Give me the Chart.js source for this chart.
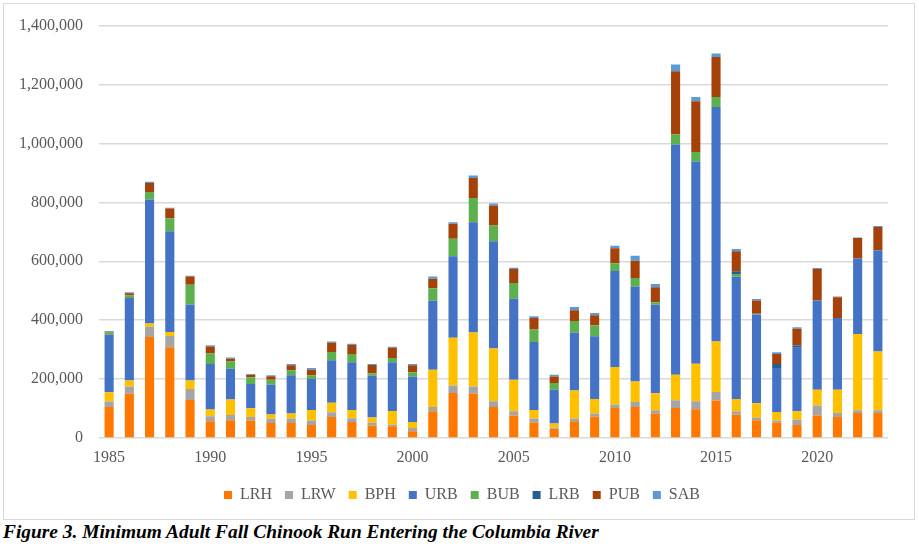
<!DOCTYPE html>
<html>
<head>
<meta charset="utf-8">
<script src="https://cdn.jsdelivr.net/npm/chart.js@4.4.1/dist/chart.umd.min.js"></script>
<style>
  html, body { margin: 0; padding: 0; background: #fff; width: 919px; height: 548px; overflow: hidden; }
  #frame { position: absolute; left: 3px; top: 3px; width: 910px; height: 515px; border: 1.5px solid #d9d9d9; }
  #wrap { position: absolute; left: 0; top: 0; width: 919px; height: 520px; }
  #caption { position: absolute; left: 3px; top: 521px; font-family: "Liberation Serif", serif; font-weight: bold; font-style: italic; font-size: 19.4px; color: #000; white-space: nowrap; }
</style>
</head>
<body>
<div id="frame"></div>
<div id="wrap"><canvas id="c" width="919" height="520"></canvas></div>
<div id="caption">Figure 3. Minimum Adult Fall Chinook Run Entering the Columbia River</div>
<script>
const years = [1985,1986,1987,1988,1989,1990,1991,1992,1993,1994,1995,1996,1997,1998,1999,2000,2001,2002,2003,2004,2005,2006,2007,2008,2009,2010,2011,2012,2013,2014,2015,2016,2017,2018,2019,2020,2021,2022,2023];
// values in fish (read in thousands)
const LRH = [105,150,343,308,129,57,60,59,51,51,44,71,54,42,40,23,91,153,151,105,76,53,31,57,72,102,105,83,102,98,127,79,60,53,44,76,71,85,85];
const LRW = [19,25,35,38,37,17,18,12,14,15,15,16,13,10,5,11,14,25,24,20,15,13,5,9,11,11,17,11,26,27,29,12,9,6,18,34,14,9,9];
const BPH = [31,20,11,14,29,23,53,30,15,17,36,33,28,18,47,20,127,162,183,179,107,29,13,95,49,128,70,58,87,127,172,41,49,29,29,54,79,259,200];
const URB = [196,280,421,342,258,154,104,82,101,130,105,144,162,141,165,155,234,277,374,364,275,231,115,196,213,326,322,300,781,687,796,415,301,150,215,303,243,256,343];
const BUB = [7,9,25,43,67,36,25,23,17,17,13,28,28,9,15,14,42,59,83,53,53,42,23,40,38,26,29,9,34,32,34,10,3,0,0,0,0,0,0];
const LRB = [0,0,0,0,0,0,0,0,0,0,0,0,0,0,0,0,0,0,0,0,0,0,0,0,0,0,0,0,0,0,0,9,0,13,8,0,0,0,0];
const PUB = [3,7,31,34,28,24,9,9,12,17,19,31,31,28,34,24,33,51,68,68,48,39,22,37,34,51,59,51,215,172,135,68,45,34,57,107,71,70,79];
const SAB = [2,4,4,3,3,4,4,2,3,4,6,5,4,3,4,4,7,5,8,7,4,6,6,11,7,9,17,11,23,15,12,8,5,6,5,3,2,2,4];
const seriesNames = ["LRH","LRW","BPH","URB","BUB","LRB","PUB","SAB"];
const seriesData = [LRH,LRW,BPH,URB,BUB,LRB,PUB,SAB];
const seriesColors = ["#FF7800","#A5A5A5","#FFC000","#4472C4","#5DB04E","#255E91","#A5420A","#5B9BD5"];
const yTicks = [0,200000,400000,600000,800000,1000000,1200000,1400000];

const FONT = "'Liberation Serif', 'Times New Roman', serif";
Chart.defaults.font.family = FONT;
Chart.defaults.font.size = 16;
Chart.defaults.color = "#595959";

const legendShift = {
  id: 'legendShift',
  afterLayout(chart) { if (chart.legend) { chart.legend.left += 36; } }
};

new Chart(document.getElementById('c'), {
  type: 'bar',
  data: {
    labels: years.map(String),
    datasets: seriesNames.map((n, i) => ({
      label: n,
      data: seriesData[i].map(v => v * 1000),
      backgroundColor: seriesColors[i],
      borderWidth: 0,
      barPercentage: 0.45,
      categoryPercentage: 1.0
    }))
  },
  plugins: [legendShift],
  options: {
    responsive: false,
    animation: false,
    layout: { padding: { left: 0, right: 31, top: 24, bottom: 7 } },
    plugins: {
      legend: {
        position: 'bottom',
        labels: { boxWidth: 8, boxHeight: 8, padding: 13, color: "#595959", font: { size: 16, family: FONT } }
      },
      tooltip: { enabled: false }
    },
    scales: {
      x: {
        stacked: true,
        grid: { display: false, drawTicks: false },
        border: { display: false },
        ticks: {
          autoSkip: false, maxRotation: 0, padding: 10,
          callback: function(v, i) { const y = years[i]; return ((y - 1985) % 5 === 0) ? String(y) : ''; }
        },
        afterFit: function(s) { s.height = 36; }
      },
      y: {
        stacked: true,
        min: 0, max: 1400000,
        afterBuildTicks: function(s) { s.ticks = yTicks.map(v => ({ value: v })); },
        grid: { color: "#d9d9d9", lineWidth: 1.5, drawTicks: false },
        border: { display: false },
        ticks: { padding: 16, callback: v => Number(v).toLocaleString('en-US') },
        afterFit: function(s) { s.width = 99; }
      }
    }
  }
});
</script>
</body>
</html>
